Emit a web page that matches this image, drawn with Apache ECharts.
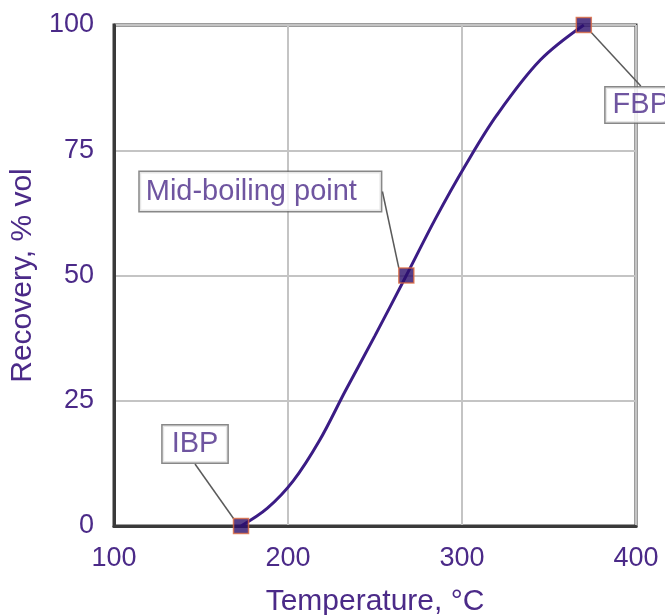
<!DOCTYPE html>
<html>
<head>
<meta charset="utf-8">
<script src="https://cdn.jsdelivr.net/npm/echarts@6/dist/echarts.min.js"></script>
<style>
  html, body { margin: 0; padding: 0; background: #fff; }
  #chart { width: 665px; height: 615px; }
</style>
</head>
<body>
<div id="chart"></div>
<script>
// distillation curve
var temps = [173, 188, 203, 218, 233, 250, 268, 285, 302, 320, 345, 370]
var recovery = [0, 3.5, 9, 17, 27, 38, 50, 61.5, 72, 82, 93, 100]

// the three labelled points
var pointNames = ['IBP', 'Mid-boiling point', 'FBP']
var pointTemps = [173, 268, 370]
var pointRecovery = [0, 50, 100]
// label box offsets from the marker (px) and box padding
var labelOffsets = [[-46, -82], [-146, -84], [57, 80]]
var labelPadding = [[5, 9, 3, 9], [6, 24, 4, 6], [4, 7, 2, 7]]

var xTicks = [100, 200, 300, 400]
var yTicks = [0, 25, 50, 75, 100]

var textColor = '#4b2a88'
var font = '"Liberation Sans", Arial, sans-serif'

var chart = echarts.init(document.getElementById('chart'))

var curve = temps.map(function (t, i) { return [t, recovery[i]] })
var points = pointNames.map(function (n, i) {
  return {
    name: n,
    value: [pointTemps[i], pointRecovery[i]],
    label: { padding: labelPadding[i] }
  }
})

chart.setOption({
  animation: false,
  textStyle: { fontFamily: font },
  grid: {
    left: 114,
    right: 29,
    top: 25,
    bottom: 89,
    outerBoundsMode: 'none',
    containLabel: false,
    show: true,
    borderColor: '#3a3a3a',
    borderWidth: 3,
    backgroundColor: '#fff'
  },
  xAxis: {
    type: 'value',
    min: xTicks[0],
    max: xTicks[xTicks.length - 1],
    interval: 100,
    name: 'Temperature, °C',
    nameLocation: 'middle',
    nameGap: 61,
    nameTextStyle: { color: textColor, fontSize: 30, fontFamily: font },
    axisLine: { show: true, lineStyle: { color: '#3a3a3a', width: 3 } },
    axisTick: { show: false },
    axisLabel: { color: textColor, fontSize: 27, margin: 19, fontFamily: font },
    splitLine: { show: true, lineStyle: { color: '#c4c4c4', width: 2 } }
  },
  yAxis: {
    type: 'value',
    min: yTicks[0],
    max: yTicks[yTicks.length - 1],
    interval: 25,
    name: 'Recovery, % vol',
    nameLocation: 'middle',
    nameGap: 73,
    nameTextStyle: { color: textColor, fontSize: 30, fontFamily: font },
    axisLine: { show: true, lineStyle: { color: '#3a3a3a', width: 3 } },
    axisTick: { show: false },
    axisLabel: { color: textColor, fontSize: 27, margin: 20, fontFamily: font },
    splitLine: { show: true, lineStyle: { color: '#c4c4c4', width: 2 } }
  },
  series: [
    {
      type: 'line',
      data: curve,
      smooth: 0.35,
      showSymbol: false,
      lineStyle: { color: '#3b1c85', width: 3 },
      z: 3
    },
    {
      type: 'scatter',
      data: points,
      symbol: 'rect',
      symbolSize: 15,
      itemStyle: { color: '#2c0f6c', borderColor: '#dd6a40', borderWidth: 1.5 },
      label: {
        show: true,
        position: 'inside',
        formatter: '{b}',
        color: textColor,
        fontSize: 29,
        fontFamily: font,
        backgroundColor: '#fff',
        borderColor: '#6a6a6a',
        borderWidth: 1.5
      },
      labelLine: {
        show: true,
        lineStyle: { color: '#5a5a5a', width: 1.5 }
      },
      labelLayout: function (params) {
        var off = labelOffsets[params.dataIndex]
        return { dx: off[0], dy: off[1] }
      },
      z: 5
    }
  ]
})
</script>
</body>
</html>
